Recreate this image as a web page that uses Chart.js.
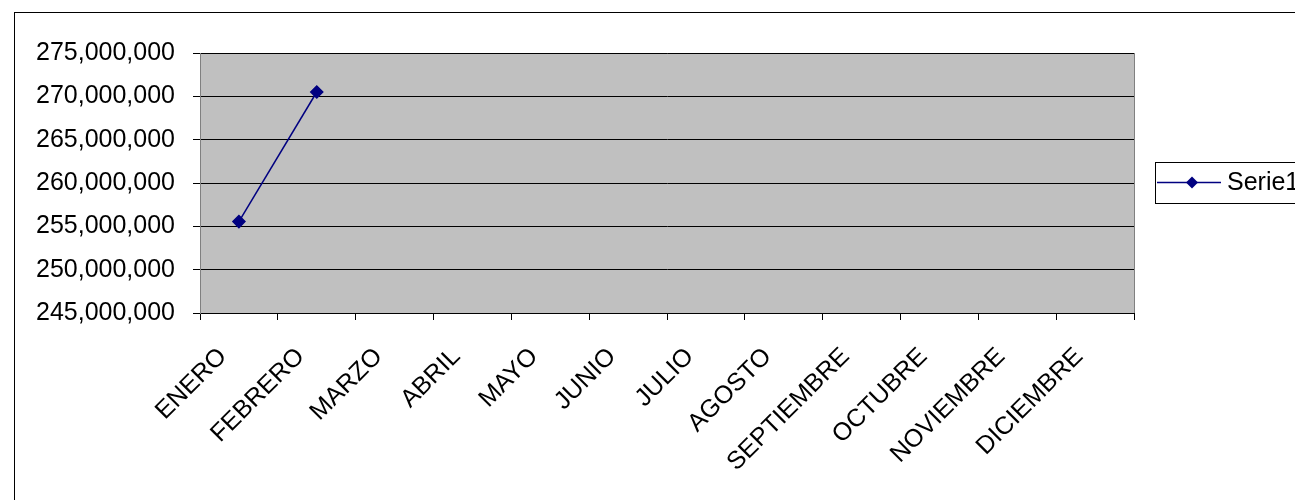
<!DOCTYPE html>
<html>
<head>
<meta charset="utf-8">
<script src="https://cdn.jsdelivr.net/npm/chart.js@4/dist/chart.umd.min.js"></script>
<style>
    html, body { margin: 0; padding: 0; background: #fff; overflow: hidden; }
    #frame { position: absolute; left: 14px; top: 12px; width: 1400px; height: 600px; border: 1px solid #000; }
    #wrap { position: absolute; left: 0; top: 0; width: 1295px; height: 500px; }
</style>
</head>
<body>
<div id="frame"></div>
<div id="wrap"><canvas id="chart"></canvas></div>
<script>
const meses = ['ENERO', 'FEBRERO', 'MARZO', 'ABRIL', 'MAYO', 'JUNIO', 'JULIO', 'AGOSTO', 'SEPTIEMBRE', 'OCTUBRE', 'NOVIEMBRE', 'DICIEMBRE'];
const serie1 = [255550000, 270500000, null, null, null, null, null, null, null, null, null, null];
const serieNombre = 'Serie1';
const yMin = 245000000;
const yMax = 275000000;
const yPaso = 5000000;

const FONT = "'Liberation Sans', Arial, sans-serif";

// fondo gris del area de trazado y su borde
const plotBg = {
    id: 'plotBg',
    beforeDraw(chart) {
        const { ctx, chartArea: a } = chart;
        ctx.save();
        ctx.fillStyle = '#c0c0c0';
        ctx.fillRect(a.left, a.top, a.right - a.left, a.bottom - a.top);
        ctx.strokeStyle = '#808080';
        ctx.lineWidth = 1;
        ctx.strokeRect(a.left + 0.5, a.top + 0.5, a.right - a.left, a.bottom - a.top);
        ctx.restore();
    }
};

// leyenda con recuadro, como en Excel
const boxLegend = {
    id: 'boxLegend',
    afterDraw(chart) {
        const ctx = chart.ctx;
        const ds = chart.data.datasets[0];
        const x = 1155, y = 162, h = 41;
        ctx.save();
        ctx.fillStyle = '#fff';
        ctx.fillRect(x, y, 200, h);
        ctx.strokeStyle = '#000';
        ctx.lineWidth = 1;
        ctx.strokeRect(x + 0.5, y + 0.5, 200, h);
        const cy = y + h / 2;
        ctx.strokeStyle = ds.borderColor;
        ctx.lineWidth = 1.5;
        ctx.beginPath();
        ctx.moveTo(x + 2, cy);
        ctx.lineTo(x + 66, cy);
        ctx.stroke();
        ctx.fillStyle = ds.pointBackgroundColor;
        ctx.beginPath();
        ctx.moveTo(x + 37, cy - 6);
        ctx.lineTo(x + 43, cy);
        ctx.lineTo(x + 37, cy + 6);
        ctx.lineTo(x + 31, cy);
        ctx.closePath();
        ctx.fill();
        ctx.fillStyle = '#000';
        ctx.font = '25px ' + FONT;
        ctx.textBaseline = 'middle';
        ctx.fillText(ds.label, x + 72, cy + 1);
        ctx.restore();
    }
};

new Chart(document.getElementById('chart'), {
    type: 'line',
    data: {
        labels: meses,
        datasets: [{
            label: serieNombre,
            data: serie1,
            borderColor: '#000080',
            backgroundColor: '#000080',
            pointBackgroundColor: '#000080',
            pointBorderColor: '#000080',
            pointStyle: 'rectRot',
            pointRadius: 6,
            borderWidth: 1.5,
            spanGaps: false
        }]
    },
    options: {
        responsive: true,
        maintainAspectRatio: false,
        animation: false,
        layout: { padding: { left: 0, top: 53, right: 161, bottom: 0 } },
        plugins: { legend: { display: false }, tooltip: { enabled: false } },
        scales: {
            x: {
                offset: true,
                afterFit(scale) { scale.height = 187; },
                grid: { offset: true, drawOnChartArea: false, drawTicks: true, tickLength: 7, color: '#000' },
                border: { display: true, color: '#000' },
                ticks: {
                    autoSkip: false,
                    minRotation: 45,
                    maxRotation: 45,
                    padding: 22,
                    labelOffset: -16,
                    color: '#000',
                    font: { family: FONT, size: 25 }
                }
            },
            y: {
                min: yMin,
                max: yMax,
                afterFit(scale) { scale.width = 200; },
                grid: { color: '#000', tickLength: 7 },
                border: { display: true, color: '#808080' },
                ticks: {
                    stepSize: yPaso,
                    padding: 18,
                    color: '#000',
                    font: { family: FONT, size: 25 },
                    callback: v => v.toLocaleString('en-US')
                }
            }
        }
    },
    plugins: [plotBg, boxLegend]
});
</script>
</body>
</html>
